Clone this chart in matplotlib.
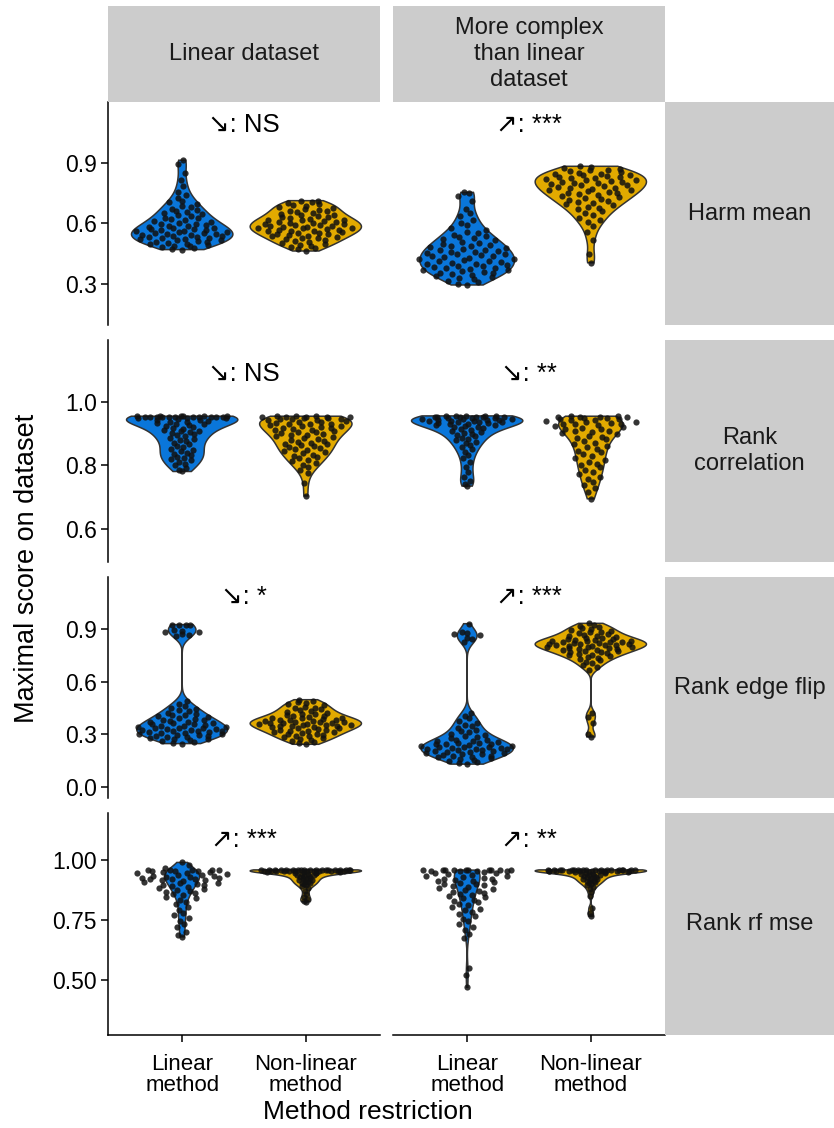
import numpy as np
import matplotlib.pyplot as plt

plt.rcParams['font.family'] = ['Liberation Sans', 'DejaVu Sans']

# ---------------- data ----------------
methods = ['Linear\nmethod', 'Non-linear\nmethod']
datasets = ['Linear dataset', 'More complex\nthan linear\ndataset']
metrics = ['Harm mean', 'Rank\ncorrelation', 'Rank edge flip', 'Rank rf mse']

# Harm mean
hm_lin_lin = [0.912, 0.893, 0.851, 0.812, 0.784, 0.757, 0.741, 0.726, 0.712, 0.703, 0.694, 0.688,
              0.679, 0.672, 0.667, 0.661, 0.655, 0.649, 0.644, 0.639, 0.634, 0.628, 0.624, 0.619,
              0.615, 0.611, 0.607, 0.603, 0.599, 0.596, 0.592, 0.589, 0.585, 0.582, 0.579, 0.576,
              0.573, 0.571, 0.568, 0.565, 0.562, 0.560, 0.557, 0.555, 0.552, 0.550, 0.548, 0.545,
              0.543, 0.541, 0.538, 0.536, 0.534, 0.531, 0.529, 0.526, 0.523, 0.521, 0.518, 0.515,
              0.512, 0.509, 0.506, 0.503, 0.500, 0.497, 0.494, 0.490, 0.486, 0.482, 0.478, 0.474, 0.470]
hm_lin_nl = [0.712, 0.708, 0.703, 0.699, 0.694, 0.690, 0.685, 0.680, 0.676, 0.671, 0.667, 0.663,
             0.659, 0.655, 0.651, 0.647, 0.643, 0.640, 0.636, 0.632, 0.629, 0.625, 0.622, 0.618,
             0.617, 0.615, 0.612, 0.608, 0.605, 0.603, 0.602, 0.599, 0.596, 0.593, 0.590, 0.588,
             0.587, 0.584, 0.581, 0.578, 0.577, 0.575, 0.572, 0.569, 0.566, 0.563, 0.561, 0.560,
             0.557, 0.554, 0.551, 0.548, 0.545, 0.542, 0.539, 0.535, 0.532, 0.528, 0.525, 0.521,
             0.517, 0.513, 0.509, 0.505, 0.500, 0.495, 0.490, 0.484, 0.478, 0.471, 0.463]
hm_cpx_lin = [0.753, 0.748, 0.735, 0.712, 0.672, 0.651, 0.634, 0.618, 0.603, 0.590, 0.578, 0.567,
              0.558, 0.551, 0.544, 0.538, 0.532, 0.526, 0.520, 0.515, 0.510, 0.505, 0.500, 0.495,
              0.490, 0.486, 0.482, 0.478, 0.474, 0.470, 0.467, 0.463, 0.460, 0.456, 0.453, 0.449,
              0.446, 0.443, 0.439, 0.436, 0.432, 0.429, 0.425, 0.422, 0.418, 0.415, 0.412, 0.408,
              0.405, 0.401, 0.398, 0.394, 0.391, 0.387, 0.384, 0.381, 0.377, 0.374, 0.370, 0.367,
              0.363, 0.360, 0.356, 0.353, 0.349, 0.345, 0.340, 0.335, 0.329, 0.323, 0.316, 0.309,
              0.302, 0.295]
hm_cpx_nl = [0.882, 0.879, 0.875, 0.871, 0.866, 0.862, 0.857, 0.853, 0.849, 0.846, 0.843, 0.840,
             0.837, 0.834, 0.831, 0.828, 0.825, 0.822, 0.819, 0.816, 0.813, 0.810, 0.806, 0.803,
             0.800, 0.797, 0.793, 0.790, 0.787, 0.783, 0.780, 0.777, 0.773, 0.770, 0.766, 0.763,
             0.759, 0.756, 0.752, 0.748, 0.744, 0.739, 0.735, 0.730, 0.726, 0.721, 0.716, 0.711,
             0.706, 0.701, 0.695, 0.689, 0.682, 0.676, 0.669, 0.660, 0.650, 0.639, 0.628, 0.616,
             0.604, 0.585, 0.555, 0.515, 0.448, 0.405]

# Rank correlation
rc_lin_lin = [0.955, 0.955, 0.955, 0.955, 0.955, 0.955, 0.954, 0.954, 0.954, 0.954, 0.953, 0.953,
              0.953, 0.952, 0.952, 0.951, 0.951, 0.950, 0.949, 0.948, 0.946, 0.944, 0.942, 0.940,
              0.938, 0.936, 0.934, 0.932, 0.930, 0.928, 0.925, 0.922, 0.919, 0.916, 0.913, 0.910,
              0.907, 0.904, 0.901, 0.898, 0.895, 0.892, 0.888, 0.884, 0.880, 0.876, 0.872, 0.867,
              0.862, 0.857, 0.852, 0.848, 0.844, 0.840, 0.836, 0.832, 0.828, 0.824, 0.820, 0.816,
              0.811, 0.806, 0.800, 0.793, 0.785, 0.781]
rc_lin_nl = [0.955, 0.955, 0.955, 0.954, 0.954, 0.953, 0.952, 0.951, 0.950, 0.949, 0.947, 0.946,
             0.945, 0.943, 0.942, 0.940, 0.938, 0.936, 0.935, 0.932, 0.931, 0.929, 0.926, 0.924,
             0.923, 0.920, 0.918, 0.917, 0.914, 0.912, 0.911, 0.908, 0.906, 0.905, 0.902, 0.899,
             0.897, 0.896, 0.893, 0.890, 0.887, 0.884, 0.881, 0.878, 0.875, 0.872, 0.869, 0.866,
             0.863, 0.860, 0.857, 0.854, 0.851, 0.848, 0.845, 0.842, 0.838, 0.834, 0.830, 0.826,
             0.822, 0.818, 0.813, 0.808, 0.802, 0.795, 0.787, 0.775, 0.745, 0.704]
rc_cpx_lin = [0.956, 0.956, 0.955, 0.955, 0.955, 0.954, 0.954, 0.953, 0.953, 0.952, 0.951, 0.950,
              0.949, 0.948, 0.947, 0.946, 0.945, 0.944, 0.943, 0.942, 0.941, 0.940, 0.939, 0.938,
              0.937, 0.936, 0.935, 0.934, 0.932, 0.930, 0.928, 0.926, 0.924, 0.922, 0.920, 0.918,
              0.915, 0.912, 0.909, 0.906, 0.903, 0.900, 0.896, 0.892, 0.888, 0.884, 0.880, 0.875,
              0.870, 0.864, 0.858, 0.851, 0.843, 0.834, 0.823, 0.810, 0.795, 0.780, 0.765, 0.752,
              0.742, 0.735]
rc_cpx_nl = [0.955, 0.955, 0.954, 0.953, 0.952, 0.951, 0.950, 0.948, 0.947, 0.946, 0.944, 0.943,
             0.941, 0.938, 0.937, 0.935, 0.932, 0.931, 0.929, 0.926, 0.924, 0.922, 0.918, 0.916,
             0.914, 0.910, 0.908, 0.906, 0.902, 0.898, 0.894, 0.890, 0.886, 0.882, 0.877, 0.872,
             0.867, 0.862, 0.857, 0.852, 0.847, 0.842, 0.836, 0.830, 0.824, 0.818, 0.812, 0.806,
             0.800, 0.794, 0.787, 0.780, 0.773, 0.765, 0.757, 0.748, 0.739, 0.728, 0.716, 0.695]

# Rank edge flip
ef_lin_lin = [0.925, 0.925, 0.922, 0.920, 0.895, 0.890, 0.885, 0.870, 0.865, 0.860, 0.885,
              0.490, 0.475, 0.462, 0.452, 0.444, 0.437, 0.430, 0.424, 0.418, 0.412, 0.407, 0.402,
              0.397, 0.392, 0.388, 0.384, 0.380, 0.376, 0.372, 0.368, 0.365, 0.362, 0.359, 0.356,
              0.353, 0.350, 0.347, 0.344, 0.341, 0.338, 0.336, 0.333, 0.331, 0.328, 0.326, 0.323,
              0.321, 0.318, 0.316, 0.313, 0.311, 0.308, 0.305, 0.303, 0.300, 0.297, 0.294, 0.291,
              0.288, 0.285, 0.282, 0.278, 0.275, 0.271, 0.267, 0.263, 0.258, 0.252, 0.247]
ef_lin_nl = [0.497, 0.490, 0.483, 0.476, 0.470, 0.464, 0.458, 0.452, 0.447, 0.442, 0.437, 0.432,
             0.427, 0.422, 0.418, 0.414, 0.410, 0.406, 0.402, 0.398, 0.394, 0.390, 0.390, 0.387,
             0.384, 0.381, 0.380, 0.378, 0.375, 0.372, 0.370, 0.369, 0.366, 0.365, 0.363, 0.360,
             0.357, 0.355, 0.354, 0.351, 0.348, 0.345, 0.345, 0.342, 0.339, 0.336, 0.333, 0.330,
             0.327, 0.324, 0.321, 0.318, 0.315, 0.312, 0.308, 0.304, 0.300, 0.296, 0.292, 0.288,
             0.284, 0.279, 0.274, 0.269, 0.263, 0.257, 0.250, 0.243]
ef_cpx_lin = [0.930, 0.880, 0.875, 0.870, 0.865, 0.850, 0.840, 0.825,
              0.420, 0.405, 0.390, 0.378, 0.366, 0.355, 0.345, 0.336, 0.327, 0.319, 0.311, 0.303,
              0.296, 0.289, 0.282, 0.276, 0.270, 0.265, 0.262, 0.260, 0.255, 0.252, 0.250, 0.246,
              0.244, 0.242, 0.238, 0.236, 0.234, 0.230, 0.228, 0.227, 0.224, 0.221, 0.218, 0.216,
              0.215, 0.212, 0.209, 0.206, 0.203, 0.200, 0.197, 0.194, 0.191, 0.188, 0.185, 0.182,
              0.179, 0.176, 0.172, 0.168, 0.164, 0.160, 0.155, 0.150, 0.144, 0.138, 0.130]
ef_cpx_nl = [0.932, 0.925, 0.918, 0.912, 0.906, 0.900, 0.895, 0.890, 0.885, 0.880, 0.875, 0.870,
             0.866, 0.862, 0.858, 0.854, 0.850, 0.847, 0.844, 0.841, 0.838, 0.835, 0.832, 0.830,
             0.829, 0.826, 0.824, 0.823, 0.820, 0.818, 0.817, 0.814, 0.812, 0.811, 0.808, 0.806,
             0.805, 0.802, 0.800, 0.799, 0.796, 0.793, 0.790, 0.787, 0.784, 0.781, 0.778, 0.775,
             0.772, 0.769, 0.766, 0.762, 0.758, 0.754, 0.750, 0.745, 0.740, 0.735, 0.729, 0.722,
             0.714, 0.705, 0.695, 0.682, 0.668, 0.420, 0.400, 0.365, 0.300, 0.285]

# Rank rf mse
rf_lin_lin = [0.990, 0.978, 0.966, 0.959, 0.958, 0.958, 0.957, 0.957, 0.956, 0.955, 0.954, 0.952,
              0.950, 0.947, 0.944, 0.941, 0.938, 0.936, 0.934, 0.932, 0.930, 0.929, 0.927, 0.925,
              0.923, 0.921, 0.919, 0.917, 0.915, 0.912, 0.909, 0.906, 0.903, 0.900, 0.897, 0.894,
              0.891, 0.888, 0.884, 0.880, 0.876, 0.872, 0.868, 0.864, 0.859, 0.854, 0.848, 0.842,
              0.835, 0.826, 0.815, 0.803, 0.790, 0.780, 0.770, 0.760, 0.748, 0.735, 0.720, 0.700,
              0.688, 0.680]
rf_lin_nl = [0.959, 0.958, 0.958, 0.958, 0.958, 0.958, 0.958, 0.958, 0.958, 0.958, 0.958, 0.958,
             0.957, 0.957, 0.957, 0.957, 0.957, 0.957, 0.957, 0.956, 0.956, 0.956, 0.956, 0.956,
             0.955, 0.955, 0.955, 0.955, 0.954, 0.954, 0.953, 0.952, 0.951, 0.950, 0.948, 0.946,
             0.944, 0.942, 0.940, 0.938, 0.936, 0.934, 0.932, 0.930, 0.927, 0.924, 0.921, 0.918,
             0.915, 0.912, 0.909, 0.906, 0.903, 0.899, 0.895, 0.890, 0.884, 0.872, 0.858, 0.846,
             0.836, 0.830, 0.826]
rf_cpx_lin = [0.958, 0.958, 0.958, 0.958, 0.958, 0.958, 0.957, 0.957, 0.957, 0.957, 0.956, 0.956,
              0.955, 0.953, 0.950, 0.947, 0.944, 0.941, 0.938, 0.935, 0.932, 0.929, 0.926, 0.923,
              0.920, 0.917, 0.914, 0.911, 0.908, 0.905, 0.902, 0.899, 0.896, 0.892, 0.888, 0.884,
              0.880, 0.876, 0.872, 0.868, 0.864, 0.860, 0.855, 0.850, 0.845, 0.840, 0.835, 0.830,
              0.824, 0.818, 0.812, 0.805, 0.798, 0.790, 0.782, 0.774, 0.765, 0.756, 0.746, 0.735,
              0.722, 0.708, 0.692, 0.675, 0.550, 0.520, 0.470]
rf_cpx_nl = [0.959, 0.958, 0.958, 0.958, 0.958, 0.958, 0.958, 0.958, 0.958, 0.958, 0.958, 0.958,
             0.957, 0.957, 0.957, 0.957, 0.957, 0.957, 0.956, 0.956, 0.956, 0.956, 0.955, 0.955,
             0.955, 0.954, 0.954, 0.953, 0.952, 0.951, 0.950, 0.949, 0.947, 0.945, 0.943, 0.941,
             0.939, 0.937, 0.935, 0.933, 0.931, 0.929, 0.926, 0.923, 0.920, 0.917, 0.914, 0.911,
             0.908, 0.904, 0.900, 0.895, 0.889, 0.880, 0.868, 0.850, 0.800, 0.780, 0.765]

annotations = [['↘: NS', '↗: ***'],
               ['↘: NS', '↘: **'],
               ['↘: *', '↗: ***'],
               ['↗: ***', '↗: **']]
yticks = [[0.3, 0.6, 0.9], [0.6, 0.8, 1.0], [0.0, 0.3, 0.6, 0.9], [0.50, 0.75, 1.00]]
ytick_fmt = ['{:.1f}', '{:.1f}', '{:.1f}', '{:.2f}']
ylims = [(0.097, 1.2), (0.496, 1.195), (-0.063, 1.196), (0.271, 1.196)]

groups = [[(hm_lin_lin, hm_lin_nl), (hm_cpx_lin, hm_cpx_nl)],
          [(rc_lin_lin, rc_lin_nl), (rc_cpx_lin, rc_cpx_nl)],
          [(ef_lin_lin, ef_lin_nl), (ef_cpx_lin, ef_cpx_nl)],
          [(rf_lin_lin, rf_lin_nl), (rf_cpx_lin, rf_cpx_nl)]]

colors = ['#0A76DA', '#E2AA00']


def bw_nrd0(v):
    sd = np.std(v, ddof=1)
    q75, q25 = np.percentile(v, [75, 25])
    lo = min(sd, (q75 - q25) / 1.34)
    if lo <= 0:
        lo = sd
    return 0.9 * lo * len(v) ** -0.2


def kde(v, y, bw):
    z = (y[:, None] - v[None, :]) / bw
    return np.exp(-0.5 * z ** 2).sum(1) / (len(v) * bw * np.sqrt(2 * np.pi))


def vdc(n):
    # van der Corput sequence, base 2 (quasirandom offsets)
    out = []
    for i in range(1, n + 1):
        x, den, k = 0.0, 1.0, i
        while k:
            den *= 2
            x += (k % 2) / den
            k //= 2
        out.append(x)
    return np.array(out)


# ---------------- layout ----------------
W, H = 834, 1128
fig = plt.figure(figsize=(W / 100, H / 100), dpi=100)


def box(x0, y0, x1, y1):
    return [x0 / W, 1 - y1 / H, (x1 - x0) / W, (y1 - y0) / H]


col_x = [(108, 380), (393, 665)]
row_y = [(102, 325), (340, 562), (577, 798), (813, 1035)]
strip_col = '#CCCCCC'

for r in range(4):
    for c in range(2):
        ax = fig.add_axes(box(col_x[c][0], row_y[r][0], col_x[c][1], row_y[r][1]))
        vals = [np.array(g, dtype=float) for g in groups[r][c]]

        # violins, area-scaled within the panel
        grids, dens = [], []
        for v in vals:
            yy = np.linspace(v.min(), v.max(), 512)
            grids.append(yy)
            dens.append(kde(v, yy, bw_nrd0(v)))
        dmax = max(d.max() for d in dens)
        for k, v in enumerate(vals):
            x0 = k + 1
            hw = 0.45 * dens[k] / dmax
            yy = grids[k]
            ax.fill(np.r_[x0 - hw, (x0 + hw)[::-1]], np.r_[yy, yy[::-1]],
                    facecolor=colors[k], edgecolor='#333333', lw=1.1, zorder=2)

        # quasirandom points
        for k, v in enumerate(vals):
            d = kde(v, v, bw_nrd0(v) * 0.5)
            d = d / d.max()
            order = np.argsort(v, kind='stable')
            rank = np.empty(len(v), dtype=int)
            rank[order] = np.arange(len(v))
            q = vdc(len(v))[rank]
            xs = (k + 1) + (q - 0.5) * 2 * d * 0.4
            ax.scatter(xs, v, s=20, color='#111111', alpha=0.85, lw=0, zorder=3)

        ax.annotate(annotations[r][c], (1.5, 1.094), xytext=(0, -6.5),
                    textcoords='offset points', ha='center', va='baseline', fontsize=18.5)

        ax.set_xlim(0.4, 2.6)
        ax.set_ylim(*ylims[r])
        for s in ['top', 'right']:
            ax.spines[s].set_visible(False)
        ax.spines['left'].set_visible(c == 0)
        ax.spines['bottom'].set_visible(r == 3)
        for s in ['left', 'bottom']:
            ax.spines[s].set_linewidth(1.1)
        ax.set_yticks(yticks[r])
        ax.set_yticklabels([ytick_fmt[r].format(t) for t in yticks[r]])
        ax.set_xticks([1, 2])
        ax.set_xticklabels(methods, linespacing=1.0)
        ax.tick_params(axis='y', length=5, width=1.1, labelsize=16.5, pad=3,
                       left=(c == 0), labelleft=(c == 0), colors='black')
        ax.tick_params(axis='x', length=5, width=1.1, labelsize=16, pad=9,
                       bottom=(r == 3), labelbottom=(r == 3))

# top strips
for c in range(2):
    sa = fig.add_axes(box(col_x[c][0], 6, col_x[c][1], 102))
    sa.set_facecolor(strip_col)
    sa.set_xticks([])
    sa.set_yticks([])
    for s in sa.spines.values():
        s.set_visible(False)
    sa.text(0.5, 0.5, datasets[c], ha='center', va='center', fontsize=17,
            color='#1a1a1a', linespacing=1.25, transform=sa.transAxes)

# right strips
for r in range(4):
    sa = fig.add_axes(box(665, row_y[r][0], 834, row_y[r][1]))
    sa.set_facecolor(strip_col)
    sa.set_xticks([])
    sa.set_yticks([])
    for s in sa.spines.values():
        s.set_visible(False)
    sa.text(0.5, 0.5, metrics[r], ha='center', va='center', fontsize=17,
            color='#1a1a1a', linespacing=1.25, transform=sa.transAxes)

fig.text(27 / W, 1 - 568 / H, 'Maximal score on dataset', rotation=90,
         ha='center', va='center', fontsize=19.5)
fig.text(368 / W, 1 - 1112 / H, 'Method restriction', ha='center', va='center',
         fontsize=19)

fig.savefig('out.png', dpi=100)
